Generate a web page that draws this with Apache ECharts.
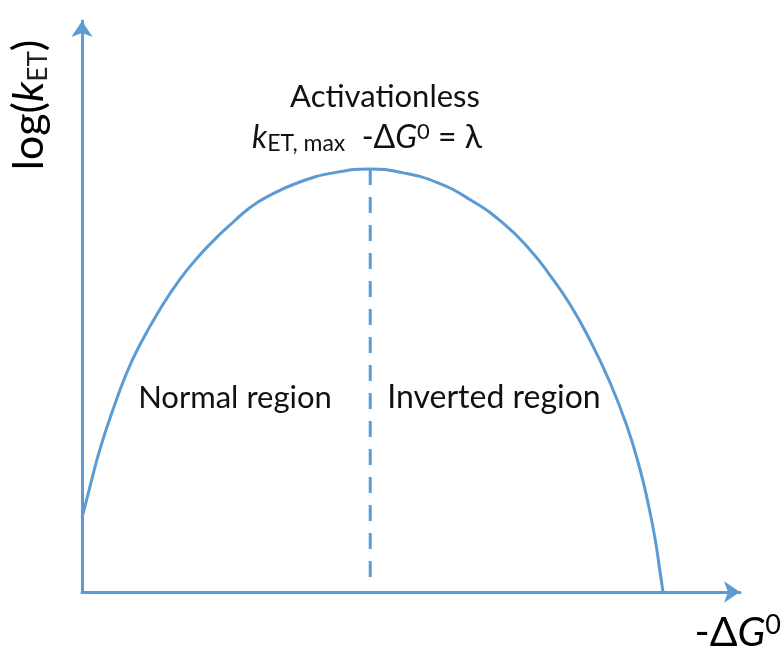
<!DOCTYPE html>
<html>
<head>
<meta charset="utf-8">
<script src="https://cdn.jsdelivr.net/npm/echarts@6/dist/echarts.min.js"></script>
<style>
  html, body { margin: 0; padding: 0; background: #ffffff; }
  #chart { width: 783px; height: 646px; }
</style>
</head>
<body>
<div id="chart"></div>
<script>
// Marcus rate curve: log(k_ET) against the driving force -ΔG0.
// Both axes run 0-100 in arbitrary units (schematic, no ticks).
const drivingForce = [0, 1.2, 2.7, 4.7, 6.8, 8.8, 11.9, 14.9, 17.9, 20.2, 23.0, 25.5, 28.1, 33.1, 38.2, 43.8,
                      48.8, 54.0, 59.0, 64.0, 68.1, 71.1, 74.2, 77.2, 80.2, 82.8, 84.8, 86.0, 87.1, 87.8, 88.3];
const logRate      = [13.0, 18.4, 24.9, 31.9, 38.4, 43.3, 49.6, 54.8, 59.0, 61.8, 64.8, 67.3, 69.2, 71.8, 73.4, 74.1,
                      73.4, 71.7, 68.7, 64.6, 59.9, 55.5, 50.3, 44.1, 36.8, 29.1, 21.5, 15.7, 9.3, 3.9, 0];
// Activationless point (-ΔG0 = λ) and the foot of the divider drawn under it
const peakIndex = 15;
const dividerFoot = 2.1;

const axisBlue = '#5B9BD5';
const textFont = 'Lato';

const curve = drivingForce.map((x, i) => [x, logRate[i]]);
const divider = [
  [drivingForce[peakIndex], logRate[peakIndex]],
  [drivingForce[peakIndex], dividerFoot]
];

const axisCommon = {
  type: 'value',
  min: 0,
  max: 100,
  axisLine: {
    show: true,
    symbol: ['none', 'arrow'],
    symbolSize: [16, 16],
    lineStyle: { color: axisBlue, width: 3 }
  },
  axisTick: { show: false },
  axisLabel: { show: false },
  splitLine: { show: false }
};

const chart = echarts.init(document.getElementById('chart'), null, { renderer: 'canvas' });

chart.setOption({
  backgroundColor: '#ffffff',
  animation: false,
  grid: { left: 82, right: 43, top: 21, bottom: 54 },
  xAxis: Object.assign({}, axisCommon),
  yAxis: Object.assign({}, axisCommon),
  series: [
    {
      name: 'log(kET)',
      type: 'line',
      data: curve,
      smooth: 0.5,
      showSymbol: false,
      lineStyle: { color: axisBlue, width: 3 },
      z: 3
    },
    {
      name: 'λ',
      type: 'line',
      data: divider,
      showSymbol: false,
      lineStyle: { color: axisBlue, width: 3, type: [16, 12] },
      z: 2
    }
  ],
  graphic: [
    {
      type: 'text',
      x: 385, y: 97,
      style: {
        text: 'Activationless',
        fontFamily: textFont, fontSize: 31, fill: '#111',
        textAlign: 'center', textVerticalAlign: 'middle'
      }
    },
    {
      type: 'text',
      x: 482, y: 138,
      style: {
        text: '{k|k}{sub|ET, max}{n|  -Δ}{g|G}{sup|0}{n| = λ}',
        textAlign: 'right', textVerticalAlign: 'middle',
        rich: {
          k:   { fontFamily: textFont, fontSize: 32, fontStyle: 'italic', fill: '#111', lineHeight: 34, verticalAlign: 'middle' },
          n:   { fontFamily: textFont, fontSize: 32, fill: '#111', lineHeight: 34, verticalAlign: 'middle' },
          g:   { fontFamily: textFont, fontSize: 32, fontStyle: 'italic', fill: '#111', lineHeight: 34, verticalAlign: 'middle' },
          sub: { fontFamily: textFont, fontSize: 23, fill: '#111', lineHeight: 16, verticalAlign: 'bottom' },
          sup: { fontFamily: textFont, fontSize: 22, fill: '#111', lineHeight: 18, verticalAlign: 'top' }
        }
      }
    },
    {
      type: 'text',
      x: 235, y: 398,
      style: {
        text: 'Normal region',
        fontFamily: textFont, fontSize: 31, fill: '#111',
        textAlign: 'center', textVerticalAlign: 'middle'
      }
    },
    {
      type: 'text',
      x: 494, y: 398,
      style: {
        text: 'Inverted region',
        fontFamily: textFont, fontSize: 32, fill: '#111',
        textAlign: 'center', textVerticalAlign: 'middle'
      }
    },
    {
      type: 'text',
      x: 29, y: 105,
      rotation: Math.PI / 2,
      style: {
        text: '{n|log(}{k|k}{sub|ET}{n|)}',
        textAlign: 'center', textVerticalAlign: 'middle',
        rich: {
          n:   { fontFamily: textFont, fontSize: 43, fill: '#000', lineHeight: 46, verticalAlign: 'middle' },
          k:   { fontFamily: textFont, fontSize: 43, fontStyle: 'italic', fill: '#000', lineHeight: 46, verticalAlign: 'middle' },
          sub: { fontFamily: textFont, fontSize: 26, fill: '#222', lineHeight: 20, verticalAlign: 'bottom' }
        }
      }
    },
    {
      type: 'text',
      x: 781, y: 633,
      style: {
        text: '{n|-Δ}{g|G}{sup|0}',
        textAlign: 'right', textVerticalAlign: 'middle',
        rich: {
          n:   { fontFamily: textFont, fontSize: 41, fill: '#000', lineHeight: 42, verticalAlign: 'middle' },
          g:   { fontFamily: textFont, fontSize: 41, fontStyle: 'italic', fill: '#000', lineHeight: 42, verticalAlign: 'middle' },
          sup: { fontFamily: textFont, fontSize: 27, fill: '#000', lineHeight: 22, verticalAlign: 'top' }
        }
      }
    }
  ]
});
</script>
</body>
</html>
